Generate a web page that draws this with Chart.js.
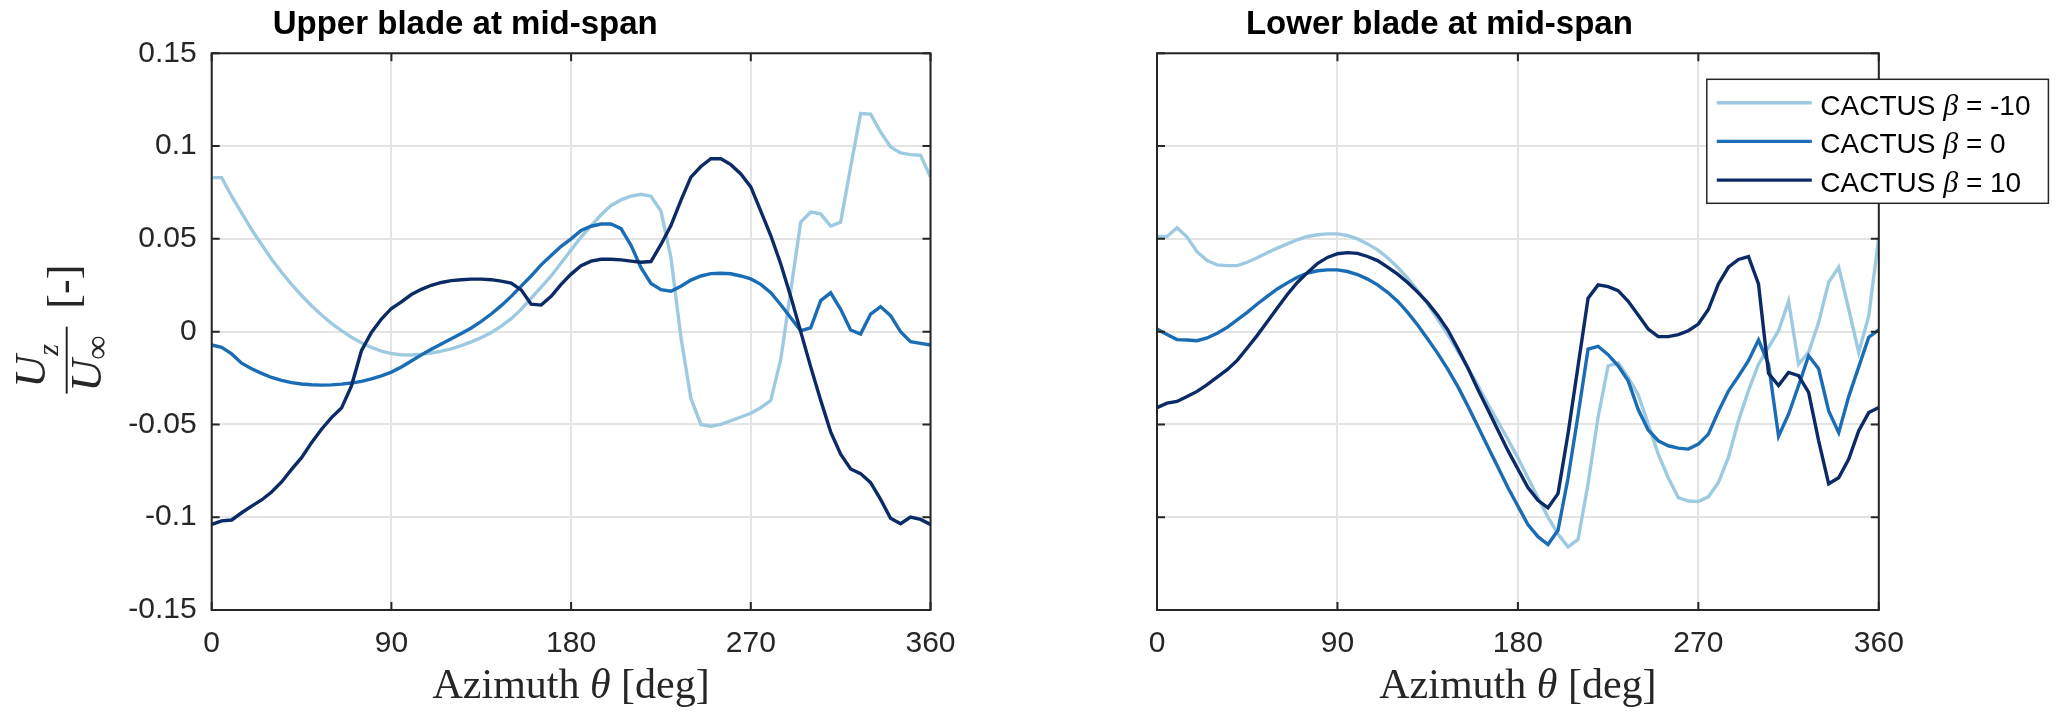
<!DOCTYPE html>
<html>
<head>
<meta charset="utf-8">
<script src="https://cdn.jsdelivr.net/npm/chart.js@4"></script>
<style>
  body { margin: 0; background: #fff; }
  #wrap { position: relative; width: 2067px; height: 724px; }
  canvas { position: absolute; top: 0; }
</style>
</head>
<body>
<div id="wrap">
  <canvas id="upperChart" width="1000" height="724" style="left:0"></canvas>
  <canvas id="lowerChart" width="1067" height="724" style="left:1000px"></canvas>
</div>
<script>
// Azimuth samples (deg), one every 5 degrees
const azimuth = [0, 5, 10, 15, 20, 25, 30, 35, 40, 45, 50, 55, 60, 65, 70, 75, 80, 85, 90,
  95, 100, 105, 110, 115, 120, 125, 130, 135, 140, 145, 150, 155, 160, 165, 170, 175, 180,
  185, 190, 195, 200, 205, 210, 215, 220, 225, 230, 235, 240, 245, 250, 255, 260, 265, 270,
  275, 280, 285, 290, 295, 300, 305, 310, 315, 320, 325, 330, 335, 340, 345, 350, 355, 360];

const xTicks = [0, 90, 180, 270, 360];
const yTicks = [-0.15, -0.1, -0.05, 0, 0.05, 0.1, 0.15];
const yTickLabels = ['-0.15', '-0.1', '-0.05', '0', '0.05', '0.1', '0.15'];

const seriesNames = ['CACTUS β = -10', 'CACTUS β = 0', 'CACTUS β = 10'];
const seriesColors = ['#9ecae1', '#1a6cb4', '#0b2a66'];

// Upper blade, Uz/Uinf
const upperM10 = [0.083, 0.083, 0.073, 0.064, 0.055, 0.047, 0.039, 0.032, 0.0255, 0.0195,
  0.014, 0.009, 0.0045, 0.0005, -0.003, -0.006, -0.0085, -0.0105, -0.0118, -0.0125,
  -0.0126, -0.0122, -0.0115, -0.0105, -0.0093, -0.0075, -0.0055, -0.0032, -0.0005, 0.003,
  0.007, 0.012, 0.018, 0.024, 0.030, 0.037, 0.044, 0.051, 0.057, 0.063,
  0.068, 0.071, 0.073, 0.074, 0.073, 0.065, 0.040, -0.003, -0.036, -0.050,
  -0.051, -0.050, -0.048, -0.046, -0.044, -0.041, -0.037, -0.015, 0.022, 0.059,
  0.0644, 0.0635, 0.0569, 0.059, 0.0887, 0.1175, 0.1172, 0.1076, 0.0995, 0.0963,
  0.0954, 0.095, 0.0833];
const upper0 = [-0.0072, -0.0085, -0.012, -0.017, -0.020, -0.0225, -0.0247, -0.0263, -0.0275, -0.0282,
  -0.0286, -0.0288, -0.0287, -0.0283, -0.0277, -0.0268, -0.0255, -0.0238, -0.0218, -0.019,
  -0.0158, -0.0125, -0.0095, -0.0066, -0.0038, -0.001, 0.002, 0.0055, 0.0095, 0.014,
  0.019, 0.0245, 0.030, 0.036, 0.041, 0.046, 0.050, 0.0545, 0.0568, 0.058,
  0.058, 0.0555, 0.0465, 0.0345, 0.026, 0.0226, 0.0218, 0.0245, 0.0278, 0.030,
  0.0313, 0.0315, 0.0312, 0.030, 0.0284, 0.0255, 0.021, 0.0145, 0.0075, 0.0005,
  0.002, 0.0167, 0.0209, 0.012, 0.0009, -0.0013, 0.0095, 0.0135, 0.0086, 0.0,
  -0.0054, -0.0063, -0.0072];
const upper10 = [-0.1039, -0.102, -0.1015, -0.0976, -0.094, -0.0907, -0.0864, -0.081, -0.0742, -0.0679,
  -0.0598, -0.0526, -0.0463, -0.0412, -0.0292, -0.0103, -0.0004, 0.0068, 0.0125, 0.016,
  0.020, 0.0228, 0.025, 0.0265, 0.0275, 0.028, 0.0283, 0.0283, 0.028, 0.0272,
  0.0262, 0.0225, 0.0148, 0.0143, 0.019, 0.0255, 0.031, 0.0355, 0.038, 0.039,
  0.039, 0.0387, 0.038, 0.0374, 0.0378, 0.047, 0.0572, 0.0707, 0.0833, 0.089,
  0.0932, 0.0932, 0.090, 0.085, 0.078, 0.065, 0.0518, 0.0365, 0.019, 0.0,
  -0.019, -0.037, -0.054, -0.066, -0.074, -0.0765, -0.0814, -0.0904, -0.1006, -0.1035,
  -0.0999, -0.1012, -0.1039];

// Lower blade, Uz/Uinf
const lowerM10 = [0.0513, 0.0513, 0.056, 0.051, 0.043, 0.0383, 0.036, 0.0356, 0.0356, 0.0374,
  0.0398, 0.0425, 0.045, 0.0473, 0.0495, 0.0513, 0.0522, 0.0527, 0.0527, 0.0518,
  0.050, 0.0473, 0.0441, 0.0398, 0.0347, 0.0288, 0.0221, 0.0149, 0.0068, -0.0016,
  -0.0105, -0.0195, -0.029, -0.039, -0.0485, -0.058, -0.068, -0.0787, -0.0895, -0.100,
  -0.109, -0.116, -0.112, -0.082, -0.046, -0.0184, -0.0169, -0.0247, -0.034, -0.0498,
  -0.066, -0.0787, -0.0895, -0.0913, -0.0916, -0.089, -0.0813, -0.0678, -0.048, -0.0318,
  -0.0175, -0.0085, 0.0005, 0.0164, -0.0175, -0.011, 0.005, 0.0266, 0.0347, 0.0122,
  -0.0112, 0.0086, 0.0509];
const lower0 = [0.0014, -0.0015, -0.0043, -0.0045, -0.0049, -0.0034, -0.0009, 0.0023, 0.0063, 0.0104,
  0.0149, 0.019, 0.023, 0.0263, 0.0293, 0.0315, 0.0328, 0.0333, 0.0333, 0.0324,
  0.0308, 0.0283, 0.0252, 0.0212, 0.0164, 0.0104, 0.0036, -0.004, -0.0117, -0.0202,
  -0.0295, -0.040, -0.051, -0.062, -0.073, -0.084, -0.094, -0.104, -0.1105, -0.1147,
  -0.107, -0.079, -0.045, -0.0094, -0.0079, -0.0124, -0.0184, -0.0265, -0.042, -0.053,
  -0.0588, -0.0615, -0.0628, -0.0633, -0.0606, -0.0552, -0.043, -0.032, -0.024, -0.0157,
  -0.0045, -0.0175, -0.0564, -0.0445, -0.029, -0.013, -0.020, -0.0427, -0.0544, -0.035,
  -0.019, -0.003, 0.001];
const lower10 = [-0.041, -0.0385, -0.0376, -0.035, -0.0322, -0.0286, -0.0245, -0.0205, -0.0155, -0.0088,
  -0.002, 0.0053, 0.0127, 0.020, 0.0265, 0.0318, 0.0367, 0.040, 0.042, 0.0426,
  0.0422, 0.0405, 0.0383, 0.0348, 0.031, 0.0265, 0.0213, 0.0156, 0.0088, 0.001,
  -0.009, -0.0195, -0.031, -0.042, -0.053, -0.064, -0.074, -0.084, -0.0909, -0.0949,
  -0.0873, -0.055, -0.0185, 0.018, 0.0252, 0.0243, 0.0221, 0.0164, 0.009, 0.0014,
  -0.0027, -0.0027, -0.0016, 0.0005, 0.0041, 0.0119, 0.0257, 0.0347, 0.0389, 0.0405,
  0.0257, -0.0225, -0.029, -0.022, -0.0237, -0.0327, -0.0588, -0.082, -0.0787, -0.0687,
  -0.0534, -0.0436, -0.0409];

const fontSans = "'Liberation Sans', Arial, sans-serif";
const fontSerif = "'Liberation Serif', 'Times New Roman', serif";
const axisGrey = '#262626';

function makeDatasets(series) {
  return series.map((vals, i) => ({
    label: seriesNames[i],
    data: azimuth.map((a, k) => ({ x: a, y: vals[k] })),
    borderColor: seriesColors[i],
    backgroundColor: seriesColors[i],
    borderWidth: 3.4,
    pointRadius: 0,
    tension: 0,
    fill: false,
    order: series.length - 1 - i
  }));
}

// box + inward ticks like matlab
const matlabAxes = {
  id: 'matlabAxes',
  afterDatasetsDraw(chart) {
    const { ctx, chartArea: a, scales: { x, y } } = chart;
    ctx.save();
    ctx.strokeStyle = axisGrey;
    ctx.lineWidth = 2;
    ctx.strokeRect(a.left, a.top, a.right - a.left, a.bottom - a.top);
    ctx.beginPath();
    xTicks.forEach(v => {
      const px = x.getPixelForValue(v);
      ctx.moveTo(px, a.bottom); ctx.lineTo(px, a.bottom - 8);
      ctx.moveTo(px, a.top); ctx.lineTo(px, a.top + 8);
    });
    yTicks.forEach(v => {
      const py = y.getPixelForValue(v);
      ctx.moveTo(a.left, py); ctx.lineTo(a.left + 8, py);
      ctx.moveTo(a.right, py); ctx.lineTo(a.right - 8, py);
    });
    ctx.stroke();
    ctx.restore();
  }
};

// "Azimuth θ [deg]" with italic theta
const xTitle = {
  id: 'xTitle',
  afterDraw(chart) {
    const { ctx, chartArea: a } = chart;
    const parts = [['Azimuth ', 'normal'], ['θ', 'italic'], [' [deg]', 'normal']];
    ctx.save();
    ctx.fillStyle = axisGrey;
    ctx.textBaseline = 'alphabetic';
    ctx.textAlign = 'left';
    let total = 0;
    parts.forEach(p => { ctx.font = p[1] + ' 42px ' + fontSerif; total += ctx.measureText(p[0]).width; });
    let px = (a.left + a.right) / 2 - total / 2;
    parts.forEach(p => {
      ctx.font = p[1] + ' 42px ' + fontSerif;
      ctx.fillText(p[0], px, a.bottom + 88);
      px += ctx.measureText(p[0]).width;
    });
    ctx.restore();
  }
};

// rotated Uz / Uinf [-] label
const yTitle = {
  id: 'yTitle',
  afterDraw(chart) {
    const { ctx, chartArea: a } = chart;
    ctx.save();
    ctx.translate(a.left - 145, (a.top + a.bottom) / 2);
    ctx.rotate(-Math.PI / 2);
    ctx.fillStyle = axisGrey;
    ctx.textAlign = 'left';
    ctx.textBaseline = 'alphabetic';
    ctx.font = 'italic 45px ' + fontSerif;
    ctx.fillText('U', -56, -22);
    ctx.font = 'italic 30px ' + fontSerif;
    ctx.fillText('z', -24, -9);
    ctx.font = 'italic 45px ' + fontSerif;
    ctx.fillText('U', -60, 34);
    ctx.font = '34px ' + fontSerif;
    ctx.fillText('∞', -28, 41);
    ctx.fillRect(-62, -1, 67, 2);
    ctx.font = '44px ' + fontSerif;
    ctx.textAlign = 'center';
    ctx.textBaseline = 'middle';
    ctx.fillText('[-]', 45, 0);
    ctx.restore();
  }
};

// legend box with italic beta
const cactusLegend = {
  id: 'cactusLegend',
  afterDraw(chart) {
    const { ctx, chartArea: a } = chart;
    const bx = a.right - 172, by = a.top + 26, bw = 341.6, bh = 124;
    ctx.save();
    ctx.fillStyle = '#fff';
    ctx.fillRect(bx, by, bw, bh);
    ctx.strokeStyle = axisGrey;
    ctx.lineWidth = 1.5;
    ctx.strokeRect(bx, by, bw, bh);
    chart.data.datasets.forEach((ds, i) => {
      const ry = by + 23.4 + i * 38.7;
      ctx.strokeStyle = ds.borderColor;
      ctx.lineWidth = 3.4;
      ctx.beginPath();
      ctx.moveTo(bx + 10, ry); ctx.lineTo(bx + 105, ry);
      ctx.stroke();
      const [pre, post] = ds.label.split('β');
      ctx.fillStyle = '#000';
      ctx.textBaseline = 'alphabetic';
      ctx.textAlign = 'left';
      let tx = bx + 113.5;
      ctx.font = '28px ' + fontSans;
      ctx.fillText(pre, tx, ry + 12);
      tx += ctx.measureText(pre).width;
      ctx.font = 'italic 30px ' + fontSerif;
      ctx.fillText('β', tx, ry + 12);
      tx += ctx.measureText('β').width;
      ctx.font = '28px ' + fontSans;
      ctx.fillText(post, tx, ry + 12);
    });
    ctx.restore();
  }
};

function buildOptions(titleText, yWidth, rightPad, showYLabels) {
  return {
    responsive: false,
    animation: false,
    devicePixelRatio: 1,
    layout: { padding: { left: 0, right: rightPad, top: 0, bottom: 0 } },
    plugins: {
      legend: { display: false },
      tooltip: { enabled: false },
      title: {
        display: true,
        text: titleText,
        color: '#000',
        font: { family: fontSans, size: 33, weight: 'bold' },
        padding: { top: 5, bottom: 8.7 }
      }
    },
    scales: {
      x: {
        type: 'linear', min: 0, max: 360,
        afterBuildTicks: s => { s.ticks = xTicks.map(v => ({ value: v })); },
        ticks: {
          font: { family: fontSans, size: 30 }, color: axisGrey,
          padding: 15.6, maxRotation: 0, autoSkip: false,
          callback: v => String(v)
        },
        grid: { color: '#e4e4e4', lineWidth: 2, drawTicks: false },
        border: { display: false },
        afterFit: s => { s.height = 114; }
      },
      y: {
        type: 'linear', min: -0.15, max: 0.15,
        afterBuildTicks: s => { s.ticks = yTicks.map(v => ({ value: v })); },
        ticks: {
          display: showYLabels,
          font: { family: fontSans, size: 30 }, color: axisGrey,
          padding: 15,
          callback: (v, i) => yTickLabels[i]
        },
        grid: { color: '#e4e4e4', lineWidth: 2, drawTicks: false },
        border: { display: false },
        afterFit: s => { s.width = yWidth; }
      }
    }
  };
}

new Chart(document.getElementById('upperChart').getContext('2d'), {
  type: 'line',
  data: { datasets: makeDatasets([upperM10, upper0, upper10]) },
  options: buildOptions('Upper blade at mid-span', 211.7, 69.5, true),
  plugins: [matlabAxes, xTitle, yTitle]
});

new Chart(document.getElementById('lowerChart').getContext('2d'), {
  type: 'line',
  data: { datasets: makeDatasets([lowerM10, lower0, lower10]) },
  options: buildOptions('Lower blade at mid-span', 157, 188.2, false),
  plugins: [matlabAxes, xTitle, cactusLegend]
});
</script>
</body>
</html>
